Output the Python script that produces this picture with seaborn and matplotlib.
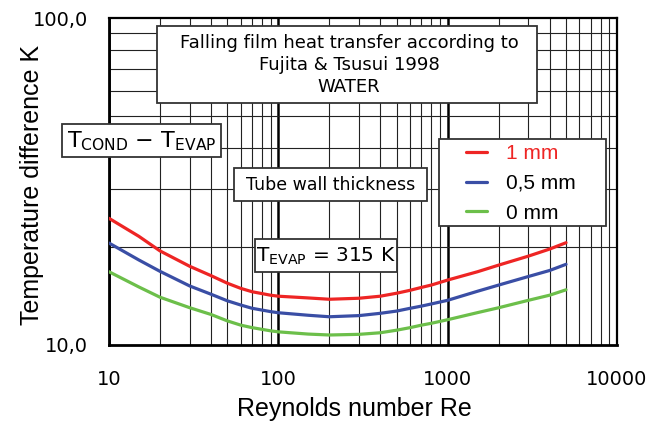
import numpy as np
import pandas as pd
import matplotlib
matplotlib.use('Agg')
import matplotlib.pyplot as plt
import seaborn as sns
from matplotlib.patches import Rectangle
from matplotlib.ticker import FixedLocator, NullFormatter, LogLocator

# ---- data ----
reynolds = [10, 15, 20, 30, 40, 50, 60, 70, 90, 100, 150, 200, 300, 400, 500,
            600, 700, 800, 1000, 1500, 2000, 3000, 4000, 5000]
dt_1mm = [24.4, 21.5, 19.4, 17.4, 16.3, 15.45, 14.9, 14.55, 14.2, 14.1, 13.93, 13.8, 13.9, 14.1, 14.4,
          14.7, 15.0, 15.25, 15.8, 16.75, 17.55, 18.7, 19.65, 20.55]
dt_05mm = [20.5, 18.2, 16.8, 15.15, 14.3, 13.65, 13.25, 12.95, 12.65, 12.55, 12.33, 12.2, 12.3, 12.5, 12.7,
           12.95, 13.15, 13.35, 13.7, 14.6, 15.25, 16.2, 16.9, 17.65]
dt_0mm = [16.75, 15.05, 14.0, 13.0, 12.4, 11.85, 11.5, 11.3, 11.05, 10.97, 10.8, 10.73, 10.78, 10.9, 11.1,
          11.3, 11.5, 11.65, 11.95, 12.56, 13.0, 13.7, 14.2, 14.75]
series_labels = ['1 mm', '0,5 mm', '0 mm']
series_colors = ['#ee2524', '#3a4ea5', '#6cbf4a']
x_ticks = [10, 100, 1000, 10000]
x_ticklabels = ['10', '100', '1000', '10000']
y_ticks = [10, 100]
y_ticklabels = ['10,0', '100,0']

df = pd.concat([
    pd.DataFrame({'Re': reynolds, 'dT': vals, 'thickness': lab})
    for vals, lab in zip([dt_1mm, dt_05mm, dt_0mm], series_labels)
], ignore_index=True)

sns.set_style('white')
plt.rcParams['font.family'] = ['DejaVu Sans']
plt.rcParams['text.color'] = 'black'
plt.rcParams['axes.labelcolor'] = 'black'
plt.rcParams['mathtext.fontset'] = 'custom'
plt.rcParams['mathtext.rm'] = 'DejaVu Sans'
plt.rcParams['mathtext.it'] = 'DejaVu Sans'

W, H = 662, 424
fig = plt.figure(figsize=(W / 100, H / 100), dpi=100)

def fx(x):
    return x / W

def fy(y):
    return 1 - y / H

L, R, T, B = 109, 617, 18, 345
ax = fig.add_axes([fx(L), fy(B), fx(R) - fx(L), fy(T) - fy(B)])

sns.lineplot(data=df, x='Re', y='dT', hue='thickness', hue_order=series_labels,
             palette=series_colors, linewidth=2.3, ax=ax, sort=False,
             estimator=None, legend=True, zorder=5)

ax.set_xscale('log')
ax.set_yscale('log')
ax.set_xlim(10, 10000)
ax.set_ylim(10, 100)

ax.xaxis.set_major_locator(FixedLocator(x_ticks))
ax.xaxis.set_minor_locator(LogLocator(base=10, subs=np.arange(2, 10)))
ax.xaxis.set_minor_formatter(NullFormatter())
ax.set_xticklabels(x_ticklabels)
ax.yaxis.set_major_locator(FixedLocator(y_ticks))
ax.yaxis.set_minor_locator(LogLocator(base=10, subs=np.arange(2, 10)))
ax.yaxis.set_minor_formatter(NullFormatter())
ax.set_yticklabels(y_ticklabels)

ax.grid(True, which='major', axis='x', color='black', linewidth=1.8)
ax.grid(True, which='minor', axis='both', color='#222222', linewidth=0.8)
ax.set_axisbelow(True)

for s in ax.spines.values():
    s.set_color('black')
    s.set_linewidth(1.6)
ax.spines['left'].set_linewidth(2.0)
ax.spines['bottom'].set_linewidth(2.0)

ax.tick_params(axis='both', which='both', direction='inout', color='black',
               width=1.2, length=10, labelsize=14, colors='black')
ax.tick_params(axis='x', which='both', pad=13)
ax.tick_params(axis='y', which='both', pad=10)
ax.tick_params(axis='x', which='major', width=2)
ax.tick_params(axis='y', which='minor', width=2)

ax.set_xlabel('Reynolds number Re', fontsize=18, family='Liberation Sans', va='center')
ax.xaxis.set_label_coords((354 - L) / (R - L), -(409 - B) / (B - T))
ax.set_ylabel('Temperature difference K', fontsize=18, family='Liberation Sans', va='center')
ax.yaxis.set_label_coords((32 - L) / (R - L), 1 - (185 - T) / (B - T))

# legend
handles, labels = ax.get_legend_handles_labels()
ax.get_legend().remove()
leg = fig.legend(handles, labels, loc='upper left',
                 bbox_to_anchor=(fx(466), fy(144)), bbox_transform=fig.transFigure,
                 frameon=False, borderpad=0, borderaxespad=0, handlelength=1.0,
                 handletextpad=0.9, labelspacing=0.52,
                 prop={'family': 'Liberation Sans', 'size': 15})
for t in leg.get_texts():
    t.set_color('black')
leg.get_texts()[0].set_color(series_colors[0])
for h in leg.get_lines():
    h.set_linewidth(2.3)

def box(x0, y0, x1, y1):
    fig.patches.append(Rectangle((fx(x0), fy(y1)), fx(x1) - fx(x0), fy(y0) - fy(y1),
                                 transform=fig.transFigure, facecolor='white',
                                 edgecolor='#333333', linewidth=1.3, zorder=10))

box(157, 26, 537, 103)
fig.text(fx(349), fy(43), 'Falling film heat transfer according to', ha='center', va='center', fontsize=13, zorder=11)
fig.text(fx(349), fy(65), 'Fujita & Tsusui 1998', ha='center', va='center', fontsize=13, zorder=11)
fig.text(fx(349), fy(87), 'WATER', ha='center', va='center', fontsize=13, zorder=11)

box(62, 124, 221, 157)
fig.text(fx(141.5), fy(141), r'$\mathrm{T_{COND}}$ $-$ $\mathrm{T_{EVAP}}$', ha='center', va='center', fontsize=16, zorder=11)

box(234, 168, 427, 201)
fig.text(fx(331), fy(184.5), 'Tube wall thickness', ha='center', va='center', fontsize=12.5, zorder=11)

box(439, 139, 606, 226)
leg.set_zorder(12)

box(255, 239, 397, 272)
fig.text(fx(326), fy(256), r'$\mathrm{T_{EVAP}}$ = 315 K', ha='center', va='center', fontsize=14.5, zorder=11)

fig.savefig('out.png', dpi=100)
